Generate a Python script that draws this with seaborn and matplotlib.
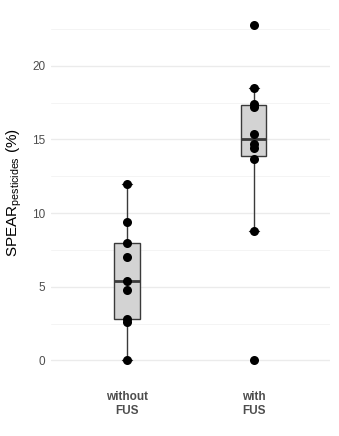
import matplotlib
matplotlib.use("Agg")
import matplotlib.pyplot as plt
import seaborn as sns
import pandas as pd
import numpy as np

categories = ["without\nFUS", "with\nFUS"]
without_fus = [0.0, 2.6, 2.8, 4.8, 5.4, 7.0, 8.0, 9.4, 12.0]
with_fus = [0.0, 8.8, 13.7, 14.4, 14.7, 15.4, 17.2, 17.4, 18.5, 22.8]

df = pd.DataFrame({
    "group": [categories[0]] * len(without_fus) + [categories[1]] * len(with_fus),
    "value": without_fus + with_fus,
})

sns.set_theme(style="white")
plt.rcParams["font.family"] = ["Liberation Sans", "DejaVu Sans"]

fig = plt.figure(figsize=(3.39, 4.36), dpi=100, facecolor="white")
ax = fig.add_axes([0.150, 0.135, 0.823, 0.847])
ax.set_facecolor("white")

edge = "#3A3A3A"
sns.boxplot(data=df, x="group", y="value", order=categories, ax=ax,
            width=0.2, color="#D3D3D3", linecolor=edge, linewidth=1.0,
            showfliers=False, whis=1.5, saturation=1,
            medianprops=dict(color=edge, linewidth=2.0),
            capwidths=0.08, zorder=2)
sns.stripplot(data=df, x="group", y="value", order=categories, ax=ax,
              jitter=False, color="black", size=6.5, zorder=3)

ax.set_xlim(-0.6, 1.6)
ax.set_ylim(-1.14, 23.94)
ax.set_yticks([0, 5, 10, 15, 20])
ax.set_yticks([2.5, 7.5, 12.5, 17.5, 22.5], minor=True)
ax.grid(axis="y", which="major", color="#EBEBEB", linewidth=1.0, zorder=0)
ax.grid(axis="y", which="minor", color="#F2F2F2", linewidth=0.6, zorder=0)
ax.grid(axis="x", visible=False)
ax.set_axisbelow(True)
for s in ax.spines.values():
    s.set_visible(False)
ax.tick_params(axis="both", which="both", length=0, pad=4)
ax.tick_params(axis="y", labelsize=8.5, labelcolor="#4D4D4D")
ax.tick_params(axis="x", labelsize=8.5, labelcolor="#4D4D4D", pad=10)
for lab in ax.get_xticklabels():
    lab.set_fontweight("bold")
ax.set_xlabel("")
ax.set_ylabel(r"SPEAR$_{\mathregular{pesticides}}$ (%)", fontsize=11, color="black", labelpad=6)

fig.savefig("out.png", dpi=100, facecolor="white")
